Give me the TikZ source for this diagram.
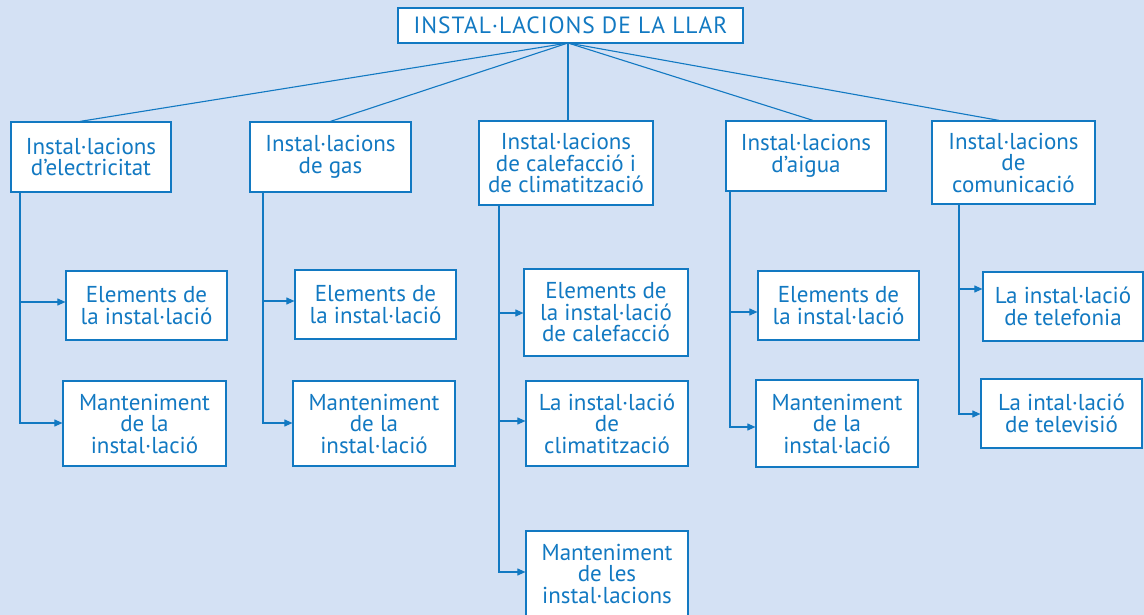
\documentclass[tikz,border=0pt]{standalone}
\usepackage{fontspec}
\setmainfont{PT Sans}
\usetikzlibrary{arrows.meta}
\definecolor{bg}{HTML}{D4E1F4}
\definecolor{ink}{HTML}{1279C2}
\tikzset{
  box/.style={draw=ink, fill=white, line width=1.2pt, align=center, inner sep=0pt,
    text=ink, font=\fontsize{23}{21.5}\selectfont},
  titlebox/.style={box, font=\fontsize{23.5}{24}\selectfont\addfontfeatures{LetterSpace=4}},
  conn/.style={draw=ink, line width=1.1pt},
  arr/.style={conn, -{Triangle[length=8pt,width=7pt]}}
}
\begin{document}
\begin{tikzpicture}[x=1pt,y=-1pt]
\fill[bg] (0,0) rectangle (1144,615);
\useasboundingbox (0,0) rectangle (1144,615);
% top
\node[titlebox, minimum width=345pt, minimum height=35pt] (top) at (570.5,25.5) {INSTAL·LACIONS DE LA LLAR};
\coordinate (hub) at (568,43);
% level 1
\node[box, minimum width=160pt, minimum height=70pt] (e) at (91,157) {Instal·lacions\\d’electricitat};
\node[box, minimum width=161pt, minimum height=70pt] (g) at (330.5,157) {Instal·lacions\\de gas};
\node[box, minimum width=174pt, minimum height=84pt] (c) at (566,163) {Instal·lacions\\de calefacció i\\de climatització};
\node[box, minimum width=160pt, minimum height=70pt] (a) at (806,156) {Instal·lacions\\d’aigua};
\node[box, minimum width=163pt, minimum height=83pt] (m) at (1013.5,162.5) {Instal·lacions\\de\\comunicació};
% top connectors
\draw[conn] (hub) -- ([xshift=-11pt]e.north);
\draw[conn] (hub) -- (g.north);
\draw[conn] (hub) -- (hub |- c.north);
\draw[conn] (hub) -- ([xshift=7pt]a.north);
\draw[conn] (hub) -- ([xshift=-14.5pt]m.north);
% level 2
\node[box, minimum width=161pt, minimum height=69pt] (e1) at (146.5,305.5) {Elements de\\la instal·lació};
\node[box, minimum width=163pt, minimum height=85pt] (e2) at (144.5,423.5) {Manteniment\\de la\\instal·lació};
\node[box, minimum width=161pt, minimum height=69pt] (g1) at (375.5,304.5) {Elements de\\la instal·lació};
\node[box, minimum width=162pt, minimum height=85pt] (g2) at (374,423.5) {Manteniment\\de la\\instal·lació};
\node[box, minimum width=164pt, minimum height=87pt] (c1) at (606,312.5) {Elements de\\la instal·lació\\de calefacció};
\node[box, minimum width=162pt, minimum height=85pt] (c2) at (607,423.5) {La instal·lació\\de\\climatització};
\node[box, minimum width=162pt, minimum height=85pt] (c3) at (607,573.5) {Manteniment\\de les\\instal·lacions};
\node[box, minimum width=161pt, minimum height=69pt] (a1) at (838.5,305.5) {Elements de\\la instal·lació};
\node[box, minimum width=162pt, minimum height=87pt] (a2) at (837,423.5) {Manteniment\\de la\\instal·lació};
\node[box, minimum width=160pt, minimum height=69pt] (t1) at (1063,306.5) {La instal·lació\\de telefonia};
\node[box, minimum width=161pt, minimum height=69pt] (t2) at (1061.5,413.5) {La intal·lació\\de televisió};
% trunks
\coordinate (ex) at (20,0);
\coordinate (gx) at (263,0);
\coordinate (cx) at (499,0);
\coordinate (ax) at (730,0);
\coordinate (mx) at (959,0);
\draw[arr] (e.south -| ex) |- ([yshift=3.5pt]e1.west);
\draw[arr] (e.south -| ex) |- ([yshift=0.5pt]e2.west);
\draw[arr] (g.south -| gx) |- ([yshift=3.5pt]g1.west);
\draw[arr] (g.south -| gx) |- ([yshift=0.5pt]g2.west);
\draw[arr] (c.south -| cx) |- ([yshift=-0.5pt]c1.west);
\draw[arr] (c.south -| cx) |- ([yshift=2.5pt]c2.west);
\draw[arr] (c.south -| cx) |- ([yshift=1.5pt]c3.west);
\draw[arr] (a.south -| ax) |- ([yshift=-6.5pt]a1.west);
\draw[arr] (a.south -| ax) |- ([yshift=-3.5pt]a2.west);
\draw[arr] (m.south -| mx) |- ([yshift=17.5pt]t1.west);
\draw[arr] (m.south -| mx) |- ([yshift=-0.5pt]t2.west);
\end{tikzpicture}
\end{document}
